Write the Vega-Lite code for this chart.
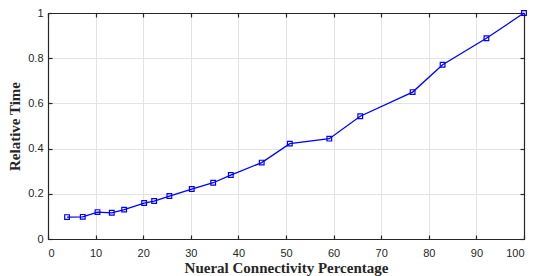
{
  "$schema": "https://vega.github.io/schema/vega-lite/v6.json",
  "autosize": {"type": "none"},
  "width": 476,
  "height": 226,
  "padding": {"left": 48, "top": 13, "right": 9, "bottom": 37},
  "background": "white",
  "config": {
    "view": {"stroke": null},
    "axis": {
      "domainColor": "#262626",
      "domainWidth": 1.2,
      "tickColor": "#262626",
      "tickSize": -4,
      "tickWidth": 1.2,
      "labelFont": "Liberation Sans",
      "labelFontSize": 11,
      "labelColor": "#262626",
      "titleFont": "Liberation Serif",
      "titleFontWeight": "bold",
      "titleFontSize": 15,
      "titleColor": "#262626",
      "gridColor": "#e3e3e3",
      "gridWidth": 1
    }
  },
  "data": {"values": [
    {"p": 4.0, "t": 0.097},
    {"p": 7.3, "t": 0.098},
    {"p": 10.4, "t": 0.119},
    {"p": 13.4, "t": 0.116},
    {"p": 16.0, "t": 0.130},
    {"p": 20.2, "t": 0.159},
    {"p": 22.3, "t": 0.168},
    {"p": 25.5, "t": 0.190},
    {"p": 30.2, "t": 0.221},
    {"p": 34.7, "t": 0.249},
    {"p": 38.4, "t": 0.283},
    {"p": 44.9, "t": 0.338},
    {"p": 50.8, "t": 0.422},
    {"p": 59.1, "t": 0.444},
    {"p": 65.6, "t": 0.543},
    {"p": 76.6, "t": 0.650},
    {"p": 82.9, "t": 0.771},
    {"p": 92.1, "t": 0.888},
    {"p": 100.0, "t": 1.0}
  ]},
  "layer": [
    {
      "mark": {"type": "line", "color": "#0000ff", "strokeWidth": 1.3, "clip": false},
      "encoding": {
        "x": {"field": "p", "type": "quantitative", "scale": {"domain": [0, 100], "nice": false},
          "axis": {"orient": "top", "labels": false, "title": null, "grid": false, "values": [0,10,20,30,40,50,60,70,80,90,100]}},
        "y": {"field": "t", "type": "quantitative", "scale": {"domain": [0, 1], "nice": false},
          "axis": {"orient": "right", "labels": false, "title": null, "grid": false, "values": [0,0.2,0.4,0.6,0.8,1]}}
      }
    },
    {
      "mark": {"type": "point", "shape": "square", "filled": false, "color": "#0000ff", "size": 22, "strokeWidth": 1.2, "opacity": 1, "clip": false},
      "encoding": {
        "x": {"field": "p", "type": "quantitative", "scale": {"domain": [0, 100], "nice": false},
          "axis": {"orient": "bottom", "title": "Nueral Connectivity Percentage", "titlePadding": 2, "labelPadding": 12, "grid": true, "values": [0,10,20,30,40,50,60,70,80,90,100]}},
        "y": {"field": "t", "type": "quantitative", "scale": {"domain": [0, 1], "nice": false},
          "axis": {"orient": "left", "title": "Relative Time", "format": ".1~f", "titlePadding": 5, "labelPadding": 9, "grid": true, "values": [0,0.2,0.4,0.6,0.8,1]}}
      }
    }
  ],
  "resolve": {"axis": {"x": "independent", "y": "independent"}}
}
